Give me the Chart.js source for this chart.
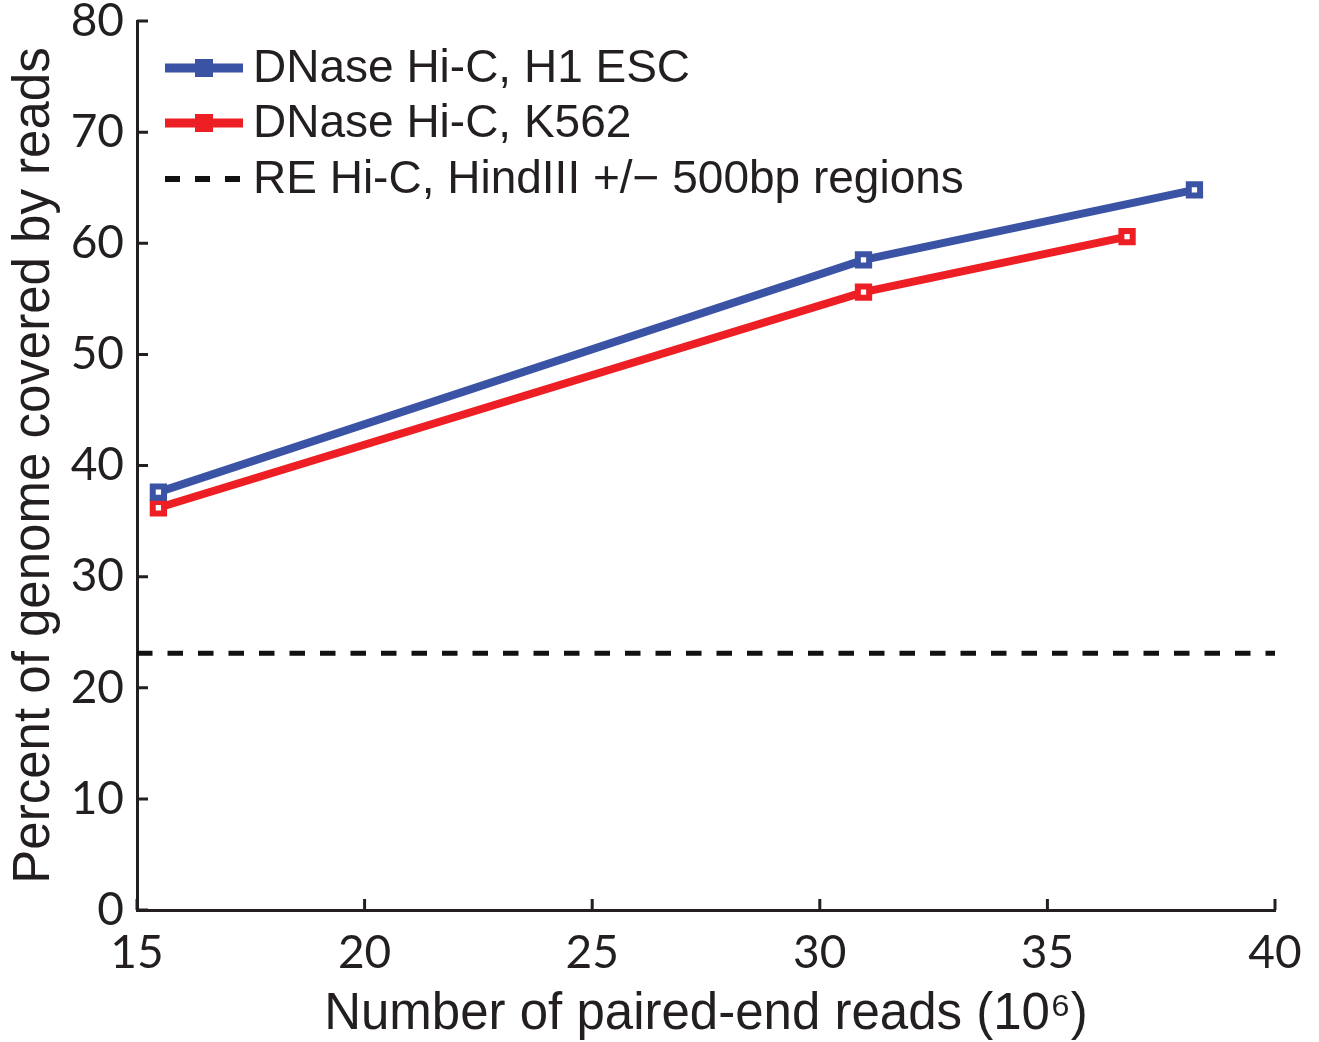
<!DOCTYPE html>
<html>
<head>
<meta charset="utf-8">
<title>Genome coverage vs. read depth</title>
<script src="https://cdn.jsdelivr.net/npm/chart.js@4.4.1/dist/chart.umd.min.js"></script>
<style>
  html, body { margin: 0; padding: 0; background: #ffffff; }
  #wrap { width: 1319px; height: 1042px; }
</style>
</head>
<body>
<div id="wrap"><canvas id="chart" width="1319" height="1042"></canvas></div>
<script>
// Read depth (millions of paired-end reads) and % genome covered
const h1Reads = [15.47, 30.96, 38.23];
const h1Coverage = [37.6, 58.5, 64.8];
const k562Reads = [15.47, 30.96, 36.75];
const k562Coverage = [36.2, 55.6, 60.6];
// RE Hi-C reference level spans the whole x range
const reReads = [15, 40];
const reCoverage = [23.1, 23.1];

const seriesLabels = [
  'DNase Hi-C, H1 ESC',
  'DNase Hi-C, K562',
  'RE Hi-C, HindIII +/\u2212 500bp regions'
];
const xTicks = [15, 20, 25, 30, 35, 40];
const yTicks = [0, 10, 20, 30, 40, 50, 60, 70, 80];

const INK = '#231f20';
const BLUE = '#3a53a4';
const RED = '#ed1f24';

const toPoints = (xs, ys) => xs.map((x, i) => ({ x: x, y: ys[i] }));

// Tick marks drawn on the inside of both axes
const inwardTicks = {
  id: 'inwardTicks',
  afterDatasetsDraw(chart) {
    const { ctx, chartArea, scales } = chart;
    ctx.save();
    ctx.strokeStyle = INK;
    ctx.lineWidth = 3;
    ctx.beginPath();
    xTicks.forEach(v => {
      const px = scales.x.getPixelForValue(v);
      ctx.moveTo(px, chartArea.bottom);
      ctx.lineTo(px, chartArea.bottom - 11);
    });
    yTicks.forEach(v => {
      const py = scales.y.getPixelForValue(v);
      ctx.moveTo(chartArea.left, py);
      ctx.lineTo(chartArea.left + 11, py);
    });
    ctx.stroke();
    ctx.restore();
  }
};

// Legend inside the plot, top-left: line sample with marker, then label
const insideLegend = {
  id: 'insideLegend',
  afterDraw(chart) {
    const { ctx, chartArea } = chart;
    const x0 = chartArea.left + 28;
    const x1 = x0 + 78;
    const textX = x1 + 10;
    const rowY = [68, 123, 179];
    ctx.save();
    chart.data.datasets.forEach((ds, i) => {
      const y = rowY[i];
      ctx.strokeStyle = ds.borderColor;
      ctx.lineWidth = ds.borderDash ? 6 : 9;
      ctx.setLineDash(ds.borderDash ? [15, 15] : []);
      ctx.beginPath();
      ctx.moveTo(x0, y);
      ctx.lineTo(x1, y);
      ctx.stroke();
      ctx.setLineDash([]);
      if (!ds.borderDash) {
        ctx.fillStyle = ds.borderColor;
        ctx.fillRect((x0 + x1) / 2 - 9, y - 9, 18, 18);
      }
      ctx.fillStyle = INK;
      ctx.font = '46px "Liberation Sans", Arial, sans-serif';
      ctx.textBaseline = 'middle';
      ctx.textAlign = 'left';
      ctx.fillText(ds.label, textX, y + 1);
    });
    ctx.restore();
  }
};

new Chart(document.getElementById('chart'), {
  type: 'line',
  data: {
    datasets: [
      {
        label: seriesLabels[0],
        data: toPoints(h1Reads, h1Coverage),
        borderColor: BLUE,
        borderWidth: 8,
        pointStyle: 'rect',
        pointRadius: 8,
        pointBorderWidth: 6,
        pointBackgroundColor: '#ffffff',
        pointBorderColor: BLUE,
        tension: 0
      },
      {
        label: seriesLabels[1],
        data: toPoints(k562Reads, k562Coverage),
        borderColor: RED,
        borderWidth: 8,
        pointStyle: 'rect',
        pointRadius: 8,
        pointBorderWidth: 6,
        pointBackgroundColor: '#ffffff',
        pointBorderColor: RED,
        tension: 0
      },
      {
        label: seriesLabels[2],
        data: toPoints(reReads, reCoverage),
        borderColor: '#111111',
        borderWidth: 5,
        borderDash: [15.5, 15],
        pointRadius: 0,
        tension: 0
      }
    ]
  },
  options: {
    responsive: false,
    animation: false,
    events: [],
    layout: { padding: { top: 21, right: 44, left: 0, bottom: 0 } },
    plugins: {
      legend: { display: false },
      tooltip: { enabled: false }
    },
    scales: {
      x: {
        type: 'linear',
        min: 15,
        max: 40,
        afterBuildTicks: s => { s.ticks = xTicks.map(v => ({ value: v })); },
        afterFit: s => { s.height = 132; s.paddingLeft = 0; s.paddingRight = 0; },
        grid: { display: false, drawTicks: false },
        border: { display: true, color: INK, width: 3 },
        ticks: {
          color: INK,
          padding: 16,
          font: { family: 'Lato, "Open Sans", sans-serif', size: 46 },
          maxRotation: 0,
          autoSkip: false
        },
        title: {
          display: true,
          text: 'Number of paired-end reads (10\u2076)',
          color: INK,
          padding: 0,
          font: { family: '"Liberation Sans", Arial, sans-serif', size: 51, lineHeight: 1.05 }
        }
      },
      y: {
        min: 0,
        max: 80,
        afterBuildTicks: s => { s.ticks = yTicks.map(v => ({ value: v })); },
        afterFit: s => { s.width = 137; s.paddingTop = 0; s.paddingBottom = 0; },
        grid: { display: false, drawTicks: false },
        border: { display: true, color: INK, width: 3 },
        ticks: {
          color: INK,
          padding: 13,
          font: { family: 'Lato, "Open Sans", sans-serif', size: 46 },
          autoSkip: false
        },
        title: {
          display: true,
          text: 'Percent of genome covered by reads',
          color: INK,
          padding: { top: 4, bottom: 0 },
          font: { family: '"Liberation Sans", Arial, sans-serif', size: 51 }
        }
      }
    }
  },
  plugins: [inwardTicks, insideLegend]
});
</script>
</body>
</html>
